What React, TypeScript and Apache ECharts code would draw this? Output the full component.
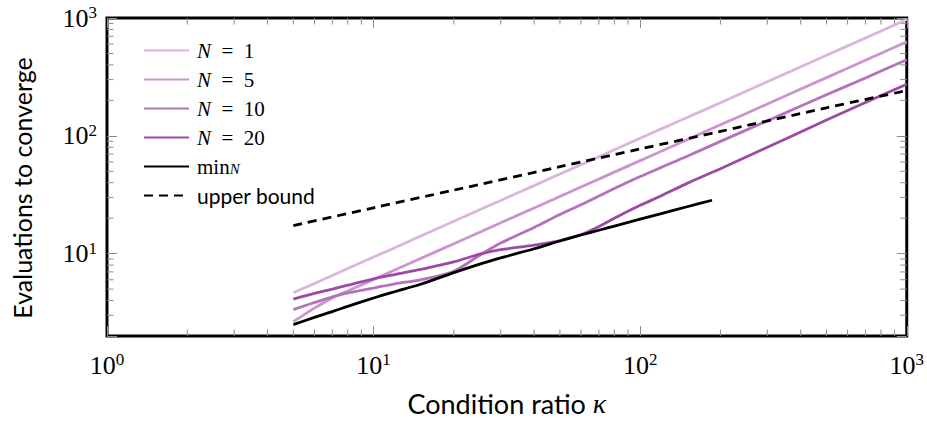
import React, { useEffect, useRef } from 'react';
import * as echarts from 'echarts';

// ---- data ----
const KAPPA = [5, 6, 7, 8, 10, 12, 15, 20, 25, 30, 40, 50, 60, 70, 80, 100, 120, 150, 200, 300, 500, 700, 1000];
const N1_VALUES = [4.65, 5.59, 6.53, 7.47, 9.35, 11.2, 14.1, 18.8, 23.6, 28.3, 37.8, 47.4, 56.9, 66.5, 76.1, 95.3, 114.5, 143, 191, 288, 482, 677, 970];
const N5_VALUES = [2.65, 3.45, 4.21, 4.82, 6.04, 7.26, 9.09, 12.15, 15.2, 18.3, 24.4, 30.6, 36.8, 42.9, 49.2, 61.6, 74.0, 92.7, 124, 186, 312, 438, 628];
const N10_VALUES = [3.35, 3.85, 4.3, 4.65, 5.1, 5.55, 6.0, 7.1, 9.7, 12.3, 16.7, 21.5, 26.0, 30.8, 35.7, 45.1, 54.0, 67, 89.7, 134, 223, 310, 442];
const N20_VALUES = [4.11, 4.6, 5.0, 5.4, 6.1, 6.65, 7.35, 8.5, 9.9, 10.8, 11.8, 12.9, 14.5, 17.0, 20.0, 25.7, 31.0, 39.5, 52.5, 80, 136, 192, 274];
const MIN_KAPPA = [5, 6, 7, 8, 10, 12, 15, 20, 25, 30, 40, 50, 60, 70, 80, 100, 120, 150, 186];
const MIN_VALUES = [2.5, 2.88, 3.22, 3.57, 4.2, 4.75, 5.5, 6.9, 8.15, 9.2, 11.0, 12.8, 14.4, 15.8, 17.1, 19.6, 21.9, 25.0, 28.4];
const BOUND_KAPPA = [5, 10, 20, 50, 100, 200, 500, 1000];
const BOUND_VALUES = [17.3, 24.5, 34.6, 54.7, 77.4, 109, 173, 242];

const SERIES_NAMES = ['N = 1', 'N = 5', 'N = 10', 'N = 20', 'min_N', 'upper bound'];
const SERIES_COLORS = ['#dbb5de', '#ca95ce', '#b571bc', '#9d4aa7', '#000000', '#000000'];

const X_MIN = 1;
const X_MAX = 1000;
const Y_MIN = 2;
const Y_MAX = 1000;
const X_MINOR_TICKS = [2, 3, 4, 5, 6, 7, 8, 9, 20, 30, 40, 50, 60, 70, 80, 90, 200, 300, 400, 500, 600, 700, 800, 900];
const Y_MINOR_TICKS = [3, 4, 5, 6, 7, 8, 9, 20, 30, 40, 50, 60, 70, 80, 90, 200, 300, 400, 500, 600, 700, 800, 900];

// ---- styling ----
const SERIF = '"Liberation Serif", "DejaVu Serif", serif';
const SANS = 'Lato, "Open Sans", sans-serif';
const TICK_COLOR = '#8c8c8c';
const MAJOR_LEN = 10;
const MINOR_LEN = 6.5;

const pair = (xs: number[], ys: number[]) => xs.map((x, i) => [x, ys[i]]);

const powLabel = (v: number) => {
  const e = Math.round(Math.log10(v));
  if (Math.abs(Math.pow(10, e) - v) > 1e-6 * v) return '';
  return `{b|10}{s|${e}}`;
};

const labelRich = {
  b: { fontFamily: SERIF, fontSize: 26, color: '#000', lineHeight: 28 },
  s: { fontFamily: SERIF, fontSize: 17, color: '#000', lineHeight: 20, verticalAlign: 'top' },
};

const legendText: Record<string, string> = {
  'N = 1': '{i|N}{r|\u2002=\u20021}',
  'N = 5': '{i|N}{r|\u2002=\u20025}',
  'N = 10': '{i|N}{r|\u2002=\u200210}',
  'N = 20': '{i|N}{r|\u2002=\u200220}',
  min_N: '{r|min}{sub|N}',
  'upper bound': '{sans|upper bound}',
};

const tickSeries = (name: string, data: number[][], horizontal: boolean) => ({
  name,
  type: 'custom',
  silent: true,
  z: 3,
  data,
  renderItem: (_params: any, api: any) => {
    const style = { stroke: TICK_COLOR, lineWidth: 1 };
    if (!horizontal) {
      const b = api.coord([api.value(0), Y_MIN]);
      const t = api.coord([api.value(0), Y_MAX]);
      return {
        type: 'group',
        children: [
          { type: 'line', shape: { x1: b[0], y1: b[1], x2: b[0], y2: b[1] - MINOR_LEN }, style },
          { type: 'line', shape: { x1: t[0], y1: t[1], x2: t[0], y2: t[1] + MINOR_LEN }, style },
        ],
      };
    }
    const l = api.coord([X_MIN, api.value(1)]);
    const r = api.coord([X_MAX, api.value(1)]);
    return {
      type: 'group',
      children: [
        { type: 'line', shape: { x1: l[0], y1: l[1], x2: l[0] + MINOR_LEN, y2: l[1] }, style },
        { type: 'line', shape: { x1: r[0], y1: r[1], x2: r[0] - MINOR_LEN, y2: r[1] }, style },
      ],
    };
  },
});

const lineSeries = (name: string, data: number[][], color: string, dashed = false) => ({
  name,
  type: 'line',
  data,
  symbol: 'none',
  showSymbol: false,
  smooth: 0.3,
  z: 4,
  lineStyle: { color, width: 2.8, type: dashed ? [9, 6] : 'solid', cap: 'butt' },
  itemStyle: { color },
});

const majorTick = { show: true, inside: true, length: MAJOR_LEN, lineStyle: { color: TICK_COLOR, width: 1 } };

const option: any = {
  animation: false,
  backgroundColor: '#ffffff',
  textStyle: { fontFamily: SERIF },
  grid: { left: 107, right: 20, top: 18, bottom: 80, show: true, borderColor: '#000', borderWidth: 3 },
  legend: {
    data: SERIES_NAMES,
    orient: 'vertical',
    left: 143,
    top: 40,
    padding: 0,
    itemWidth: 45,
    itemHeight: 14,
    itemGap: 8,
    selectedMode: false,
    itemStyle: { opacity: 0 },
    formatter: (name: string) => legendText[name] || name,
    textStyle: {
      fontFamily: SERIF,
      fontSize: 21,
      color: '#000',
      lineHeight: 20,
      padding: [0, 0, 0, 3],
      rich: {
        i: { fontFamily: SERIF, fontStyle: 'italic', fontSize: 21, color: '#000', lineHeight: 20 },
        r: { fontFamily: SERIF, fontSize: 21, color: '#000', lineHeight: 20 },
        sub: { fontFamily: SERIF, fontStyle: 'italic', fontSize: 15, color: '#000', lineHeight: 6, verticalAlign: 'bottom' },
        sans: { fontFamily: SANS, fontSize: 21, color: '#000', lineHeight: 20 },
      },
    },
  },
  xAxis: [
    {
      type: 'log',
      logBase: 10,
      min: X_MIN,
      max: X_MAX,
      position: 'bottom',
      axisLine: { show: false },
      axisTick: majorTick,
      axisLabel: { formatter: powLabel, rich: labelRich, margin: 15 },
      splitLine: { show: false },
      name: '{t|Condition ratio }{k|κ}',
      nameLocation: 'middle',
      nameGap: 53,
      nameTextStyle: {
        rich: {
          t: { fontFamily: SANS, fontSize: 27, color: '#000', lineHeight: 28 },
          k: { fontFamily: SERIF, fontStyle: 'italic', fontSize: 28, color: '#000', lineHeight: 28 },
        },
      },
    },
    {
      type: 'log',
      logBase: 10,
      min: X_MIN,
      max: X_MAX,
      position: 'top',
      axisLine: { show: false },
      axisTick: majorTick,
      axisLabel: { show: false },
      splitLine: { show: false },
    },
  ],
  yAxis: [
    {
      type: 'log',
      logBase: 10,
      min: Y_MIN,
      max: Y_MAX,
      position: 'left',
      axisLine: { show: false },
      axisTick: majorTick,
      axisLabel: { formatter: powLabel, rich: labelRich, margin: 10 },
      splitLine: { show: false },
      name: 'Evaluations to converge',
      nameLocation: 'middle',
      nameGap: 73,
      nameTextStyle: { fontFamily: SANS, fontSize: 25, color: '#000', padding: [0, 22, 0, 0] },
    },
    {
      type: 'log',
      logBase: 10,
      min: Y_MIN,
      max: Y_MAX,
      position: 'right',
      axisLine: { show: false },
      axisTick: majorTick,
      axisLabel: { show: false },
      splitLine: { show: false },
    },
  ],
  series: [
    tickSeries('xMinor', X_MINOR_TICKS.map((v) => [v, Y_MIN]), false),
    tickSeries('yMinor', Y_MINOR_TICKS.map((v) => [X_MIN, v]), true),
    lineSeries(SERIES_NAMES[0], pair(KAPPA, N1_VALUES), SERIES_COLORS[0]),
    lineSeries(SERIES_NAMES[1], pair(KAPPA, N5_VALUES), SERIES_COLORS[1]),
    lineSeries(SERIES_NAMES[2], pair(KAPPA, N10_VALUES), SERIES_COLORS[2]),
    lineSeries(SERIES_NAMES[3], pair(KAPPA, N20_VALUES), SERIES_COLORS[3]),
    lineSeries(SERIES_NAMES[4], pair(MIN_KAPPA, MIN_VALUES), SERIES_COLORS[4]),
    lineSeries(SERIES_NAMES[5], pair(BOUND_KAPPA, BOUND_VALUES), SERIES_COLORS[5], true),
  ],
};

export default function App() {
  const ref = useRef<HTMLDivElement>(null);
  useEffect(() => {
    const chart = echarts.init(ref.current as HTMLDivElement, null, { renderer: 'svg' });
    chart.setOption(option);
    return () => chart.dispose();
  }, []);
  return (
    <div
      ref={ref}
      style={{ position: 'absolute', left: 0, top: 0, width: 927, height: 422, background: '#fff' }}
    />
  );
}
